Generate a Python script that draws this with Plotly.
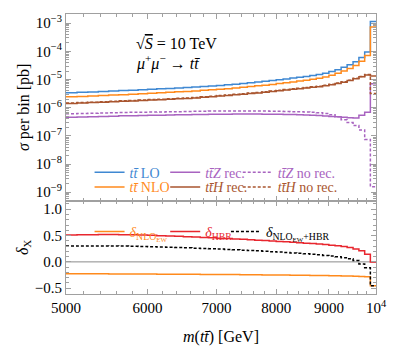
import plotly.graph_objects as go
from plotly.subplots import make_subplots

# m(tt) bins of 125 GeV
edges = list(range(5000, 10001, 125))

# sigma per bin [pb], one value per bin
tt_lo = [3.39e-6, 3.51e-6, 3.63e-6, 3.76e-6, 3.89e-6, 4.03e-6, 4.17e-6, 4.32e-6, 4.47e-6, 4.65e-6,
         4.83e-6, 5.02e-6, 5.22e-6, 5.45e-6, 5.68e-6, 5.92e-6, 6.17e-6, 6.46e-6, 6.84e-6, 7.24e-6,
         7.67e-6, 8.13e-6, 8.61e-6, 9.12e-6, 9.77e-6, 1.047e-5, 1.122e-5, 1.202e-5, 1.288e-5, 1.396e-5,
         1.514e-5, 1.679e-5, 1.905e-5, 2.239e-5, 2.692e-5, 3.311e-5, 4.266e-5, 6.026e-5, 9.55e-5, 1.148e-3]
tt_nlo = [2.43e-6, 2.51e-6, 2.60e-6, 2.69e-6, 2.79e-6, 2.88e-6, 2.99e-6, 3.09e-6, 3.24e-6, 3.37e-6,
          3.50e-6, 3.64e-6, 3.78e-6, 3.94e-6, 4.13e-6, 4.31e-6, 4.49e-6, 4.70e-6, 5.01e-6, 5.31e-6,
          5.62e-6, 5.96e-6, 6.31e-6, 6.68e-6, 7.16e-6, 7.67e-6, 8.22e-6, 8.81e-6, 9.46e-6, 1.028e-5,
          1.114e-5, 1.236e-5, 1.403e-5, 1.652e-5, 1.986e-5, 2.443e-5, 3.155e-5, 4.457e-5, 7.08e-5, 7.24e-4]
ttz_rec = [4.57e-7, 4.68e-7, 4.79e-7, 4.90e-7, 5.01e-7, 5.13e-7, 5.19e-7, 5.25e-7, 5.37e-7, 5.43e-7,
           5.50e-7, 5.56e-7, 5.62e-7, 5.69e-7, 5.75e-7, 5.82e-7, 5.89e-7, 5.89e-7, 5.96e-7, 5.96e-7,
           5.96e-7, 5.96e-7, 5.89e-7, 5.89e-7, 5.82e-7, 5.75e-7, 5.69e-7, 5.62e-7, 5.50e-7, 5.37e-7,
           5.25e-7, 5.07e-7, 4.90e-7, 4.73e-7, 4.57e-7, 4.42e-7, 4.27e-7, 5.37e-7, 6.92e-7, 7.08e-6]
ttz_norec = [6.03e-7, 6.17e-7, 6.31e-7, 6.46e-7, 6.61e-7, 6.76e-7, 6.84e-7, 6.92e-7, 7.00e-7, 7.08e-7,
             7.16e-7, 7.24e-7, 7.33e-7, 7.41e-7, 7.50e-7, 7.59e-7, 7.59e-7, 7.67e-7, 7.67e-7, 7.67e-7,
             7.67e-7, 7.59e-7, 7.59e-7, 7.50e-7, 7.41e-7, 7.33e-7, 7.24e-7, 7.16e-7, 7.00e-7, 6.84e-7,
             6.61e-7, 6.17e-7, 5.62e-7, 4.79e-7, 3.72e-7, 2.95e-7, 2.34e-7, 1.62e-7, 7.50e-8, 1.55e-9]
tth_rec = [1.413e-6, 1.462e-6, 1.514e-6, 1.567e-6, 1.622e-6, 1.679e-6, 1.738e-6, 1.799e-6, 1.862e-6, 1.928e-6,
           1.995e-6, 2.065e-6, 2.138e-6, 2.213e-6, 2.328e-6, 2.449e-6, 2.576e-6, 2.710e-6, 2.851e-6, 3.006e-6,
           3.162e-6, 3.350e-6, 3.548e-6, 3.758e-6, 3.981e-6, 4.217e-6, 4.467e-6, 4.732e-6, 5.012e-6, 5.272e-6,
           5.546e-6, 5.957e-6, 6.531e-6, 7.161e-6, 8.035e-6, 9.120e-6, 1.057e-5, 1.242e-5, 1.445e-5, 1.318e-5]
tth_norec = [1.47e-6, 1.52e-6, 1.57e-6, 1.63e-6, 1.69e-6, 1.75e-6, 1.81e-6, 1.87e-6, 1.94e-6, 2.01e-6,
             2.07e-6, 2.15e-6, 2.22e-6, 2.30e-6, 2.42e-6, 2.55e-6, 2.68e-6, 2.82e-6, 2.97e-6, 3.13e-6,
             3.29e-6, 3.48e-6, 3.69e-6, 3.91e-6, 4.14e-6, 4.39e-6, 4.65e-6, 4.92e-6, 5.21e-6, 5.48e-6,
             5.77e-6, 6.20e-6, 6.79e-6, 7.45e-6, 8.36e-6, 9.48e-6, 1.10e-5, 1.29e-5, 1.49e-5, 3.2e-6]

# relative corrections
d_nloew = [-0.224, -0.225, -0.226, -0.227, -0.228, -0.229, -0.230, -0.231, -0.232, -0.233,
           -0.234, -0.235, -0.236, -0.237, -0.238, -0.239, -0.240, -0.241, -0.242, -0.244,
           -0.245, -0.246, -0.247, -0.249, -0.250, -0.251, -0.253, -0.254, -0.256, -0.257,
           -0.259, -0.261, -0.263, -0.265, -0.267, -0.270, -0.273, -0.277, -0.283, -0.455]
d_hbr = [0.510, 0.514, 0.517, 0.518, 0.518, 0.516, 0.513, 0.509, 0.504, 0.498,
         0.492, 0.486, 0.479, 0.472, 0.465, 0.458, 0.451, 0.444, 0.436, 0.428,
         0.420, 0.412, 0.404, 0.396, 0.388, 0.380, 0.372, 0.364, 0.356, 0.347,
         0.338, 0.328, 0.317, 0.305, 0.290, 0.272, 0.245, 0.210, 0.145, 0.0]
d_both = [0.300, 0.302, 0.303, 0.303, 0.302, 0.300, 0.297, 0.293, 0.289, 0.284,
          0.279, 0.273, 0.267, 0.261, 0.255, 0.249, 0.243, 0.237, 0.230, 0.223,
          0.216, 0.209, 0.202, 0.194, 0.186, 0.178, 0.170, 0.162, 0.153, 0.144,
          0.134, 0.123, 0.111, 0.097, 0.080, 0.058, 0.028, -0.040, -0.110, -0.455]

x_ticks = [5000, 6000, 7000, 8000, 9000, 10000]
x_ticktext = ["5000", "6000", "7000", "8000", "9000", "10<sup>4</sup>"]
y_ticks = [1e-9, 1e-8, 1e-7, 1e-6, 1e-5, 1e-4, 1e-3]
y_ticktext = ["10<sup>−9</sup>", "10<sup>−8</sup>", "10<sup>−7</sup>", "10<sup>−6</sup>",
              "10<sup>−5</sup>", "10<sup>−4</sup>", "10<sup>−3</sup>"]
d_ticks = [-0.5, 0.0, 0.5, 1.0]
d_ticktext = ["−0.5", "0.0", "0.5", "1.0"]

FONT = "Liberation Serif, Times New Roman, DejaVu Serif, serif"
BLUE = "#3f88d2"
ORANGE = "#ff8a1c"
PURPLE = "#a863c0"
BROWN = "#a9552f"
RED = "#e8262e"
BLACK = "#000000"
GRAY = "#a0a0a0"


def steps(vals):
    return edges, list(vals) + [vals[-1]]


def label(text, color):
    return "<span style='color:%s'>%s</span>" % (color, text)


fig = make_subplots(rows=2, cols=1, shared_xaxes=True, vertical_spacing=0,
                    row_heights=[0.6667, 0.3333])

# each legend entry gets its own one-item legend so the columns line up
top = [
    (tt_lo, "<i>tt̄</i> LO", BLUE, "solid", "legend", 0.076, 0.433),
    (ttz_rec, "<i>tt̄Z</i> rec.", PURPLE, "solid", "legend2", 0.320, 0.433),
    (ttz_norec, "<i>tt̄Z</i> no rec.", PURPLE, "3px,2px", "legend3", 0.554, 0.433),
    (tt_nlo, "<i>tt̄</i> NLO", ORANGE, "solid", "legend4", 0.076, 0.381),
    (tth_rec, "<i>tt̄H</i> rec.", BROWN, "solid", "legend5", 0.320, 0.381),
    (tth_norec, "<i>tt̄H</i> no rec.", BROWN, "3px,2px", "legend6", 0.554, 0.381),
]
bottom = [
    (d_nloew, "<i>δ</i><sub>NLO<sub>EW</sub></sub>", ORANGE, "solid", "legend7", 0.076, 0.2215),
    (d_hbr, "<i>δ</i><sub>HBR</sub>", RED, "solid", "legend8", 0.320, 0.2215),
    (d_both, "<i>δ</i><sub>NLO<sub>EW</sub>+HBR</sub>", BLACK, "3px,2px", "legend9", 0.516, 0.2215),
]

legend_common = dict(xanchor="left", yanchor="middle", bgcolor="rgba(0,0,0,0)",
                     font=dict(family=FONT, size=14), itemclick=False, itemdoubleclick=False)
legends = {}

for row, group in ((1, top), (2, bottom)):
    for vals, name, color, dash, leg, lx, ly in group:
        x, y = steps(vals)
        fig.add_trace(go.Scatter(x=x, y=y, mode="lines", line_shape="hv",
                                 line=dict(color=color, width=1.5, dash=dash),
                                 name=label(name, color), legend=leg), row=row, col=1)
        legends[leg] = dict(x=lx, y=ly, **legend_common)

fig.add_hline(y=0, line=dict(color="#8a8a8a", width=1), layer="below", row=2, col=1)

minor_x = [m for m in range(5200, 10000, 200) if m % 1000]
minor_y = [k * 10.0 ** e for e in range(-10, -2) for k in range(2, 10)]
minor_d = [round(-0.6 + 0.1 * i, 1) for i in range(18)]

axis_common = dict(showline=True, linecolor=GRAY, linewidth=1, mirror="allticks",
                   ticks="inside", ticklen=5, tickcolor=GRAY, showgrid=False, zeroline=False,
                   tickfont=dict(family=FONT, size=15, color="black"))

fig.update_xaxes(type="log", range=[3.69897, 4.0], tickvals=x_ticks, ticktext=x_ticktext,
                 minor=dict(tickvals=minor_x, ticks="inside", ticklen=3, tickcolor=GRAY),
                 **axis_common)
fig.update_xaxes(showticklabels=False, row=1, col=1)
fig.update_xaxes(title=dict(text="<i>m</i>(<i>tt̄</i>) [GeV]", font=dict(family=FONT, size=16)),
                 row=2, col=1)
fig.update_yaxes(type="log", range=[-9.30, -2.676], tickvals=y_ticks, ticktext=y_ticktext,
                 minor=dict(tickvals=minor_y, ticks="inside", ticklen=3, tickcolor=GRAY),
                 title=dict(text="<i>σ</i> per bin [pb]", font=dict(family=FONT, size=16),
                            standoff=2),
                 row=1, col=1, **axis_common)
fig.update_yaxes(range=[-0.61, 1.162], tickvals=d_ticks, ticktext=d_ticktext,
                 minor=dict(tickvals=minor_d, ticks="inside", ticklen=3, tickcolor=GRAY),
                 title=dict(text="<i>δ</i><sub>X</sub>", font=dict(family=FONT, size=16),
                            standoff=2),
                 row=2, col=1, **axis_common)

fig.update_layout(
    width=399, height=354,
    margin=dict(l=66, r=17, t=14, b=55),
    showlegend=True,
    plot_bgcolor="white", paper_bgcolor="white",
    font=dict(family=FONT, color="black"),
    annotations=[
        dict(text="√<span style='text-decoration:overline'><i>S</i></span> = 10 TeV",
             x=0.218, y=0.895, xref="paper", yref="paper", yanchor="middle",
             showarrow=False, font=dict(family=FONT, size=16)),
        dict(text="<i>μ</i><sup>+</sup><i>μ</i><sup>−</sup> → <i>tt̄</i>", x=0.218, y=0.826,
             xref="paper", yref="paper", yanchor="middle",
             showarrow=False, font=dict(family=FONT, size=16)),
    ],
    **legends,
)

# drop the default page margin so the figure sits at the window origin
fig.write_html("out.html", config={"displayModeBar": False},
               post_script="document.body.style.margin='0';")
